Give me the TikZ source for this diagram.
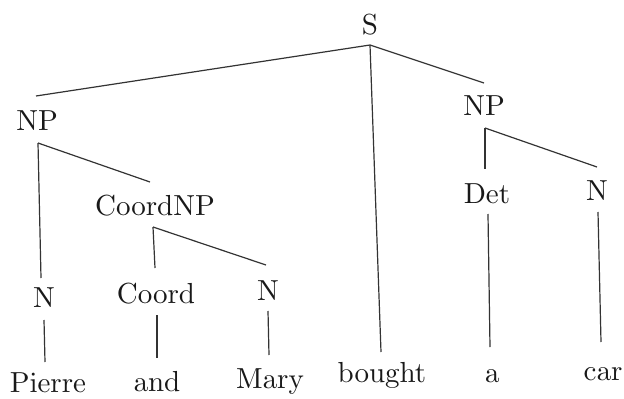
\documentclass[tikz,border=0pt]{standalone}
\font\treefont=cmr10 at 29pt
\begin{document}
\begin{tikzpicture}[x=1pt,y=-1pt,
  lbl/.style={inner sep=0pt, anchor=base, font=\treefont, text=black!90},
  edge/.style={line width=1.2pt, draw=black!80}]
\useasboundingbox (0,0) rectangle (624,399);
% labels
\node[lbl] (S) at (370,34) {S};
\node[lbl] (NPa) at (37,130) {NP};
\node[lbl] (NPb) at (484,115) {NP};
\node[lbl] (CNP) at (155,215) {CoordNP};
\node[lbl] (Det) at (487,203) {Det};
\node[lbl] (Nc) at (597,200) {N};
\node[lbl] (Na) at (44,307) {N};
\node[lbl] (Coord) at (156,303) {Coord};
\node[lbl] (Nb) at (268,300) {N};
\node[lbl] (Pierre) at (48,392) {Pierre};
\node[lbl] (and) at (157,391) {and};
\node[lbl] (Mary) at (270,388) {Mary};
\node[lbl] (bought) at (382,382) {bought};
\node[lbl] (a) at (492,382) {a};
\node[lbl] (car) at (603,380) {car};
% connector points
\coordinate (sS) at (370,45);
\coordinate (tNPa) at (36,96);
\coordinate (tNPb) at (484,83);
\coordinate (tbought) at (381,352);
\coordinate (sNPa) at (38,143);
\coordinate (tNa) at (41,278);
\coordinate (tCNP) at (150,182);
\coordinate (sCNP) at (153,227);
\coordinate (tCoord) at (155,268);
\coordinate (tNb) at (266,265);
\coordinate (sNa) at (44,320);
\coordinate (tPierre) at (45,362);
\coordinate (sCoord) at (157,315);
\coordinate (tand) at (157,358);
\coordinate (sNb) at (268,311);
\coordinate (tMary) at (269,355);
\coordinate (sNPb) at (485,128);
\coordinate (tDet) at (485,169);
\coordinate (tNc) at (597,167);
\coordinate (sDet) at (488,214);
\coordinate (ta) at (490,347);
\coordinate (sNc) at (598,212);
\coordinate (tcar) at (601,342);
% edges
\draw[edge] (sS) -- (tNPa);
\draw[edge] (sS) -- (tbought);
\draw[edge] (sS) -- (tNPb);
\draw[edge] (sNPa) -- (tNa);
\draw[edge] (sNPa) -- (tCNP);
\draw[edge] (sCNP) -- (tCoord);
\draw[edge] (sCNP) -- (tNb);
\draw[edge] (sNa) -- (tPierre);
\draw[edge] (sCoord) -- (tand);
\draw[edge] (sNb) -- (tMary);
\draw[edge] (sNPb) -- (tDet);
\draw[edge] (sNPb) -- (tNc);
\draw[edge] (sDet) -- (ta);
\draw[edge] (sNc) -- (tcar);
\end{tikzpicture}
\end{document}
